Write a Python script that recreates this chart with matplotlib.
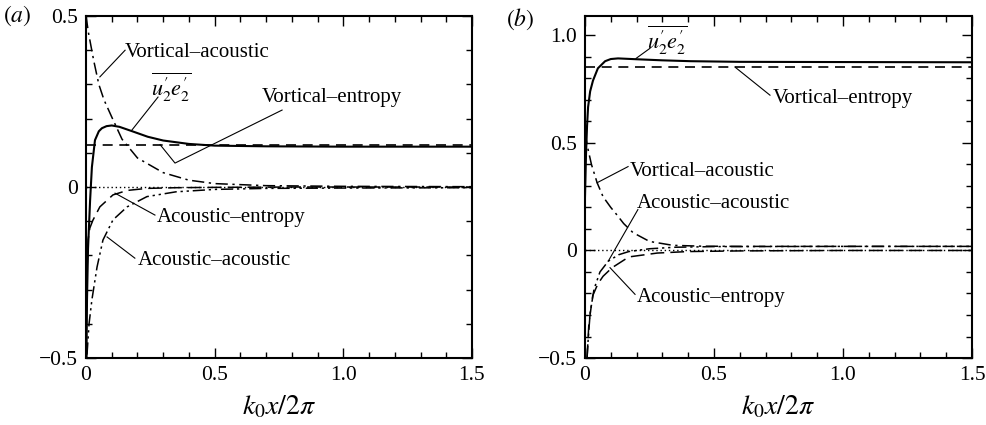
import matplotlib
matplotlib.use("Agg")
import matplotlib.pyplot as plt
from matplotlib.ticker import MultipleLocator, FuncFormatter

plt.rcParams['font.family'] = ['Liberation Serif', 'DejaVu Serif']
plt.rcParams['mathtext.fontset'] = 'stix'
plt.rcParams['font.size'] = 15

# ---- panel (a) data ----
a_uE_x = [0.002, 0.004, 0.008, 0.016, 0.023, 0.035, 0.05, 0.062, 0.08, 0.1, 0.13, 0.18, 0.24, 0.3, 0.4, 0.5, 0.7, 1.0, 1.5]
a_uE_y = [-0.5, -0.33, -0.18, -0.04, 0.058, 0.137, 0.163, 0.172, 0.178, 0.18, 0.176, 0.163, 0.147, 0.136, 0.126, 0.121, 0.119, 0.118, 0.118]
a_ve_level = 0.124

a_va_x = [0.0, 0.01, 0.03, 0.05, 0.07, 0.1, 0.14, 0.2, 0.3, 0.4, 0.5, 0.7, 1.0, 1.5]
a_va_y = [0.5, 0.45, 0.37, 0.30, 0.255, 0.205, 0.14, 0.085, 0.042, 0.02, 0.01, 0.004, 0.002, 0.001]

a_aa_x = [0.004, 0.012, 0.023, 0.043, 0.066, 0.105, 0.16, 0.237, 0.35, 0.5, 0.7, 1.0, 1.5]
a_aa_y = [-0.49, -0.40, -0.33, -0.234, -0.155, -0.096, -0.058, -0.028, -0.014, -0.007, -0.004, -0.003, -0.002]

a_ae_x = [0.002, 0.008, 0.015, 0.027, 0.054, 0.105, 0.16, 0.237, 0.35, 0.5, 0.8, 1.5]
a_ae_y = [-0.30, -0.155, -0.12, -0.097, -0.058, -0.023, -0.01, -0.004, -0.002, -0.001, 0.0, 0.0]

# ---- panel (b) data ----
b_uE_x = [0.0, 0.004, 0.008, 0.012, 0.02, 0.031, 0.05, 0.078, 0.1, 0.128, 0.2, 0.3, 0.41, 0.6, 1.0, 1.5]
b_uE_y = [0.25, 0.45, 0.58, 0.667, 0.74, 0.79, 0.847, 0.88, 0.89, 0.893, 0.889, 0.884, 0.88, 0.877, 0.876, 0.875]
b_ve_level = 0.853

b_va_x = [0.0, 0.01, 0.025, 0.047, 0.07, 0.1, 0.124, 0.15, 0.186, 0.25, 0.34, 0.45, 0.6, 1.0, 1.5]
b_va_y = [0.55, 0.48, 0.40, 0.315, 0.25, 0.2, 0.165, 0.125, 0.083, 0.042, 0.024, 0.02, 0.019, 0.019, 0.019]

b_aa_x = [0.008, 0.012, 0.02, 0.035, 0.058, 0.09, 0.13, 0.17, 0.25, 0.35, 0.5, 1.0, 1.5]
b_aa_y = [-0.5, -0.42, -0.29, -0.18, -0.10, -0.05, -0.02, -0.005, 0.008, 0.015, 0.018, 0.019, 0.019]

b_ae_x = [0.008, 0.015, 0.03, 0.05, 0.07, 0.105, 0.17, 0.28, 0.4, 0.6, 1.0, 1.5]
b_ae_y = [-0.5, -0.34, -0.21, -0.155, -0.12, -0.08, -0.03, -0.012, -0.005, -0.002, 0.0, 0.0]

xlabel = r'$k_0x/2\pi$'
uE_label = "$\\overline{u_2^{\u2032}e_2^{\u2032}}$"

DASH = (0, (6, 4))
LONGDASH = (0, (9, 4))
DASHDOT = (0, (8, 3, 1.5, 3))
DASHDOTDOT = (0, (8, 2.5, 1.5, 2.5, 1.5, 2.5))


def style_axes(ax, ylim, yticks, ylabels):
    ax.set_xlim(0, 1.5)
    ax.set_ylim(*ylim)
    ax.xaxis.set_major_locator(MultipleLocator(0.5))
    ax.xaxis.set_minor_locator(MultipleLocator(0.1))
    ax.yaxis.set_major_locator(MultipleLocator(0.5))
    ax.yaxis.set_minor_locator(MultipleLocator(0.1))
    ax.set_yticks(yticks)
    ax.set_yticklabels(ylabels)
    ax.xaxis.set_major_formatter(FuncFormatter(lambda v, p: '0' if abs(v) < 1e-9 else '%.1f' % v))
    ax.tick_params(which='both', direction='in', top=True, right=True, width=1.0)
    ax.tick_params(which='major', length=7, labelsize=15.5, pad=6)
    ax.tick_params(which='minor', length=4)
    for s in ax.spines.values():
        s.set_linewidth(1.5)
    ax.set_xlabel(xlabel, fontsize=20, labelpad=6)


def leader(ax, pts):
    xs = [p[0] for p in pts]
    ys = [p[1] for p in pts]
    ax.plot(xs, ys, color='k', lw=0.8)


fig = plt.figure(figsize=(9.87, 4.25), dpi=100)
axa = fig.add_axes([0.0871, 0.1576, 0.3911, 0.8047])
axb = fig.add_axes([0.5927, 0.1576, 0.3921, 0.8047])

# panel (a)
axa.axhline(0, color='k', lw=1.0, ls=(0, (1, 2)))
axa.axhline(a_ve_level, color='k', lw=1.2, ls=DASH)
axa.plot(a_va_x, a_va_y, color='k', lw=1.1, ls=DASHDOT)
axa.plot(a_aa_x, a_aa_y, color='k', lw=1.1, ls=DASHDOTDOT)
axa.plot(a_ae_x, a_ae_y, color='k', lw=1.1, ls=LONGDASH)
axa.plot(a_uE_x, a_uE_y, color='k', lw=1.5)
style_axes(axa, (-0.5, 0.5), [-0.5, 0, 0.5], ['\u22120.5', '0', '0.5'])

axa.text(0.152, 0.392, 'Vortical\u2013acoustic', va='center', ha='left')
leader(axa, [(0.054, 0.322), (0.152, 0.40)])
axa.text(0.33, 0.29, uE_label, va='center', ha='center', fontsize=16)
leader(axa, [(0.179, 0.167), (0.28, 0.263)])
axa.text(0.684, 0.263, 'Vortical\u2013entropy', va='center', ha='left')
leader(axa, [(0.762, 0.225), (0.346, 0.070), (0.288, a_ve_level)])
axa.text(0.276, -0.088, 'Acoustic\u2013entropy', va='center', ha='left')
leader(axa, [(0.113, -0.018), (0.268, -0.082)])
axa.text(0.202, -0.216, 'Acoustic\u2013acoustic', va='center', ha='left')
leader(axa, [(0.082, -0.146), (0.19, -0.208)])
fig.text(0.003, 0.962, r'$(a)$', fontsize=17, va='center', ha='left')

# panel (b)
axb.axhline(0, color='k', lw=1.0, ls=(0, (1, 2)))
axb.axhline(b_ve_level, color='k', lw=1.2, ls=DASH)
axb.plot(b_va_x, b_va_y, color='k', lw=1.1, ls=DASHDOT)
axb.plot(b_aa_x, b_aa_y, color='k', lw=1.1, ls=DASHDOTDOT)
axb.plot(b_ae_x, b_ae_y, color='k', lw=1.1, ls=LONGDASH)
axb.plot(b_uE_x, b_uE_y, color='k', lw=1.5)
style_axes(axb, (-0.5, 1.09), [-0.5, 0, 0.5, 1.0], ['\u22120.5', '0', '0.5', '1.0'])

axb.text(0.318, 0.977, uE_label, va='center', ha='center', fontsize=16)
leader(axb, [(0.198, 0.893), (0.252, 0.94)])
axb.text(0.729, 0.708, 'Vortical\u2013entropy', va='center', ha='left')
leader(axb, [(0.581, b_ve_level), (0.717, 0.722)])
axb.text(0.174, 0.366, 'Vortical\u2013acoustic', va='center', ha='left')
leader(axb, [(0.047, 0.315), (0.167, 0.39)])
axb.text(0.2, 0.22, 'Acoustic\u2013acoustic', va='center', ha='left')
leader(axb, [(0.09, -0.05), (0.205, 0.19)])
axb.text(0.2, -0.218, 'Acoustic\u2013entropy', va='center', ha='left')
leader(axb, [(0.097, -0.08), (0.194, -0.204)])
fig.text(0.513, 0.955, r'$(b)$', fontsize=17, va='center', ha='left')

fig.savefig('out.png', dpi=100)
